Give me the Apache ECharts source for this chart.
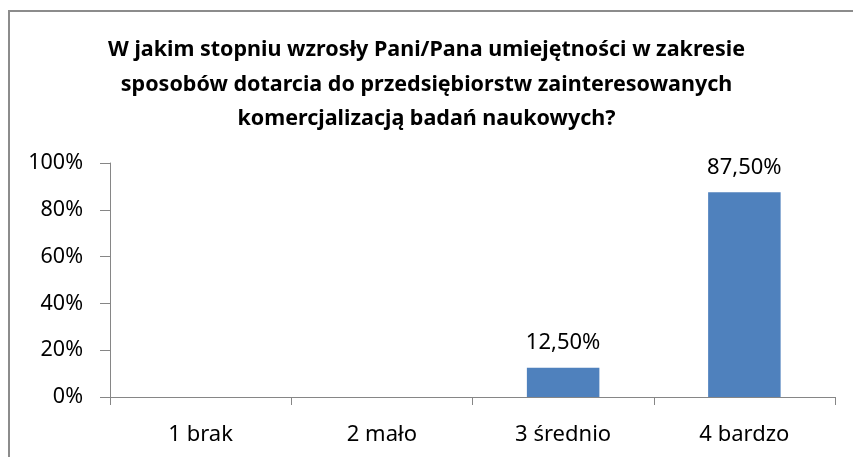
<!DOCTYPE html>
<html>
<head>
<meta charset="utf-8">
<script src="https://cdn.jsdelivr.net/npm/echarts@6/dist/echarts.min.js"></script>
<style>
    html, body { margin: 0; padding: 0; background: #fff; }
    #wrap { position: relative; width: 853px; height: 457px; overflow: hidden; }
    #frame { position: absolute; left: 8px; top: 10px; width: 900px; height: 500px; border: 2px solid #8c8c8c; box-sizing: border-box; }
    #chart { position: absolute; left: 0; top: 0; width: 853px; height: 457px; }
</style>
</head>
<body>
<div id="wrap">
    <div id="frame"></div>
    <div id="chart"></div>
</div>
<script>
var titleText = 'W jakim stopniu wzrosły Pani/Pana umiejętności w zakresie\nsposobów dotarcia do przedsiębiorstw zainteresowanych\nkomercjalizacją badań naukowych?';
var categories = ['1 brak', '2 mało', '3 średnio', '4 bardzo'];
var shares = [0, 0, 12.5, 87.5];
var yTicks = { min: 0, max: 100, interval: 20 };

var fontName = 'Noto Sans';
var axisColor = '#868686';

var myChart = echarts.init(document.getElementById('chart'), null, { renderer: 'canvas' });

var option = {
    animation: false,
    title: {
        text: titleText,
        left: 'center',
        top: 28,
        textStyle: {
            fontFamily: fontName,
            fontSize: 21.5,
            fontWeight: 'bold',
            color: '#000',
            lineHeight: 34.5
        }
    },
    grid: {
        left: 110,
        right: 18,
        top: 163,
        bottom: 60
    },
    xAxis: {
        type: 'category',
        data: categories,
        axisLine: {
            lineStyle: { color: axisColor, width: 1 }
        },
        axisTick: {
            show: true,
            alignWithLabel: false,
            length: 8,
            lineStyle: { color: axisColor }
        },
        axisLabel: {
            fontFamily: fontName,
            fontSize: 22,
            color: '#000',
            margin: 27
        }
    },
    yAxis: {
        type: 'value',
        min: yTicks.min,
        max: yTicks.max,
        interval: yTicks.interval,
        axisLine: {
            show: true,
            lineStyle: { color: axisColor, width: 1 }
        },
        axisTick: {
            show: true,
            length: 10,
            lineStyle: { color: axisColor }
        },
        splitLine: { show: false },
        axisLabel: {
            fontFamily: fontName,
            fontSize: 21.5,
            color: '#000',
            margin: 27,
            formatter: function (v) {
                return v + '%';
            }
        }
    },
    series: [{
        type: 'bar',
        data: shares,
        barWidth: '40%',
        itemStyle: {
            color: '#4f81bd'
        },
        label: {
            show: true,
            position: 'top',
            distance: 14,
            fontFamily: fontName,
            fontSize: 22,
            color: '#000',
            formatter: function (p) {
                if (!p.value) return '';
                return p.value.toFixed(2).replace('.', ',') + '%';
            }
        }
    }]
};

myChart.setOption(option);
</script>
</body>
</html>
